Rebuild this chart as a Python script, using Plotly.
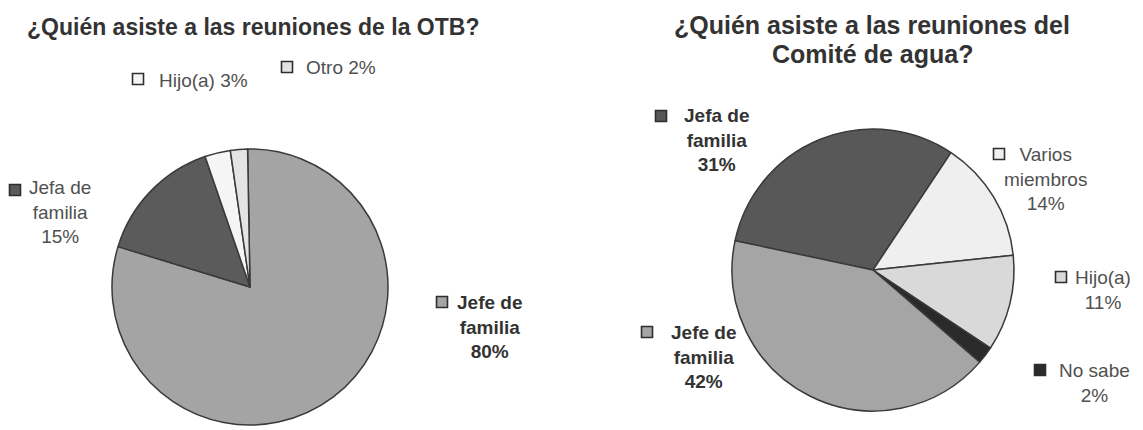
import plotly.graph_objects as go

W, H = 1143, 430

# --- data: who attends the meetings ---
otb_labels = ["Jefe de familia", "Jefa de familia", "Hijo(a)", "Otro"]
otb_values = [80, 15, 3, 2]
otb_colors = ["#a4a4a4", "#5b5b5b", "#f5f5f5", "#e4e4e4"]

agua_labels = ["Jefa de familia", "Varios miembros", "Hijo(a)", "No sabe", "Jefe de familia"]
agua_values = [31, 14, 11, 2, 42]
agua_colors = ["#585858", "#efefef", "#d9d9d9", "#2a2a2a", "#a5a5a5"]

otb_title = "¿Quién asiste a las reuniones de la OTB?"
agua_title = ["¿Quién asiste a las reuniones del", "Comité de agua?"]

FONT = "Liberation Sans, Arial, sans-serif"
EDGE = "#3a3a3a"


def px_domain(cx, cy, r):
    return dict(x=[(cx - r) / W, (cx + r) / W], y=[1 - (cy + r) / H, 1 - (cy - r) / H])


fig = go.Figure()
fig.add_trace(go.Pie(
    labels=otb_labels, values=otb_values, sort=False, direction="clockwise",
    rotation=-1, textinfo="none", hoverinfo="skip", showlegend=False,
    marker=dict(colors=otb_colors, line=dict(color=EDGE, width=1.5)),
    domain=px_domain(250, 287, 138),
))
fig.add_trace(go.Pie(
    labels=agua_labels, values=agua_values, sort=False, direction="clockwise",
    rotation=-78, textinfo="none", hoverinfo="skip", showlegend=False,
    marker=dict(colors=agua_colors, line=dict(color=EDGE, width=1.5)),
    domain=px_domain(873, 270, 141),
))

annotations = []
shapes = []


def text_at(x, y, text, size, color="#333333"):
    annotations.append(dict(
        x=x / W, y=1 - y / H, xref="paper", yref="paper", text=text,
        showarrow=False, xanchor="center", yanchor="middle", align="center",
        font=dict(family=FONT, size=size, color=color),
    ))


def key_box(x, y, fill, s=11):
    shapes.append(dict(
        type="rect", xref="paper", yref="paper",
        xsizemode="pixel", ysizemode="pixel",
        xanchor=x / W, yanchor=1 - y / H,
        x0=-s / 2, x1=s / 2, y0=-s / 2, y1=s / 2,
        fillcolor=fill, line=dict(color="#2e2e2e", width=1.6),
    ))


# titles
text_at(253, 27, f"<b>{otb_title}</b>", 23)
text_at(872, 25, f"<b>{agua_title[0]}</b>", 25)
text_at(872, 54, f"<b>{agua_title[1]}</b>", 25)

# slice labels: (label block centre, key box centre, bold, one-line)
otb_place = [
    ((489, 327), (442, 302), True, False),
    ((60, 212), (15, 190), False, False),
    ((203, 80), (138, 79), False, True),
    ((341, 68), (287, 67), False, True),
]
agua_place = [
    ((716, 140), (661, 116), True, False),
    ((1045, 179), (999, 154), False, False),
    ((1103, 290), (1061, 277), False, False),
    ((1094, 383), (1040, 370), False, False),
    ((703, 357), (647, 332), True, False),
]


def split_name(name):
    words = name.split(" ")
    if len(words) == 3:
        return " ".join(words[:2]) + "<br>" + words[2]
    if len(words) == 2 and name != "No sabe":
        return words[0] + "<br>" + words[1]
    return name


for labels, values, colors, places in [
    (otb_labels, otb_values, otb_colors, otb_place),
    (agua_labels, agua_values, agua_colors, agua_place),
]:
    for lab, val, col, (tc, bc, bold, one_line) in zip(labels, values, colors, places):
        if one_line:
            txt = f"{lab} {val}%"
        else:
            txt = f"{split_name(lab)}<br>{val}%"
        if bold:
            txt = "<br>".join(f"<b>{t}</b>" for t in txt.split("<br>"))
            color = "#333333"
        else:
            color = "#505050"
        text_at(tc[0], tc[1], txt, 19, color)
        key_box(bc[0], bc[1], col)

fig.update_layout(
    width=W, height=H, margin=dict(l=0, r=0, t=0, b=0),
    paper_bgcolor="white", plot_bgcolor="white",
    annotations=annotations, shapes=shapes,
)

fig.write_html("out.html")
